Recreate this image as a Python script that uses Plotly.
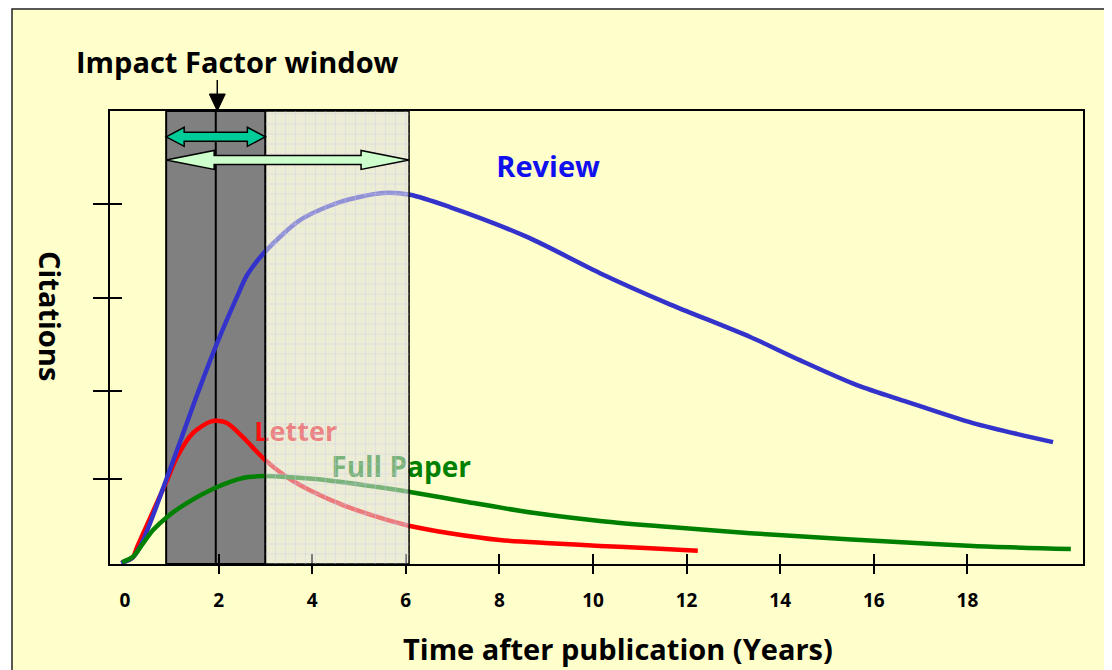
import plotly.graph_objects as go

# ---------------- data ----------------
review_years = [-0.08, 0.17, 0.36, 0.96, 1.50, 1.97, 2.39, 2.61, 2.99, 3.74, 4.59, 5.51, 6.09,
                6.94, 8.59, 10.15, 11.58, 13.36, 14.42, 15.64, 16.71, 18.12, 19.83]
review_cites = [0.02, 0.15, 0.46, 2.08, 3.62, 4.88, 5.89, 6.38, 6.89, 7.59, 7.99, 8.19, 8.15,
                7.88, 7.22, 6.42, 5.76, 5.01, 4.50, 3.95, 3.58, 3.11, 2.69]

letter_years = [-0.08, 0.17, 0.26, 0.90, 1.11, 1.45, 1.82, 1.97, 2.18, 2.52, 2.99, 3.46, 3.95,
                4.66, 5.39, 6.09, 6.94, 8.01, 9.08, 10.15, 11.22, 12.24]
letter_cites = [0.02, 0.15, 0.38, 1.85, 2.36, 2.89, 3.14, 3.16, 3.11, 2.80, 2.30, 1.92, 1.63,
                1.30, 1.04, 0.84, 0.68, 0.53, 0.46, 0.40, 0.35, 0.29]

paper_years = [-0.06, 0.17, 0.39, 0.60, 0.90, 1.33, 1.97, 2.52, 2.99, 3.46, 4.32, 5.39, 6.09,
               7.31, 8.72, 10.15, 11.58, 13.36, 14.57, 16.41, 18.12, 20.21]
paper_cites = [0.04, 0.16, 0.46, 0.75, 1.04, 1.35, 1.70, 1.90, 1.94, 1.92, 1.85, 1.70, 1.59,
               1.37, 1.13, 0.95, 0.82, 0.68, 0.60, 0.49, 0.40, 0.33]

x_tick_years = [0, 2, 4, 6, 8, 10, 12, 14, 16, 18]
x_tick_labels = [str(v) for v in x_tick_years]
x_mark_years = [2, 4, 6, 8, 10, 12, 14, 16, 18]
y_mark_values = [1.88, 3.82, 5.87, 7.95]

series_names = ["Review", "Letter", "Full Paper"]
label_years = [9.04, 3.65, 5.90]
label_cites = [8.70, 2.87, 2.08]

if_window = [0.88, 3.0]      # dark window (years)
if_marker_year = 1.94        # vertical line
wide_window = [3.0, 6.07]    # light window (years)

# ---------------- styling / geometry ----------------
OFF = 8                      # default page margin around the figure
SW, SH = 1112, 670           # screen size
W, H = SW - OFF, SH - OFF    # figure size
# plot area in screen pixels
PL, PR, PT, PB = 110, 1083, 111, 564
PW, PH = PR - PL, PB - PT
X_RANGE = [-0.32, 20.47]
Y_RANGE = [0, 10]
DX = (X_RANGE[1] - X_RANGE[0]) / PW   # data per pixel
DY = (Y_RANGE[1] - Y_RANGE[0]) / PH

BG = "#ffffcc"
FONT = "Open Sans"
BLUE_LINE = "#3333cc"
RED = "#ff0000"
GREEN = "#008000"


def to_paper_x(xd):
    return (xd - X_RANGE[0]) / (X_RANGE[1] - X_RANGE[0])


def sx(px):   # screen x pixel -> paper
    return (px - PL) / PW


def sy(py):   # screen y pixel -> paper
    return (PB - py) / PH


def double_arrow(x0, x1, yc, head_len, head_half, shaft_half):
    hl, hh, sh = head_len * DX, head_half * DY, shaft_half * DY
    pts = [(x0, yc), (x0 + hl, yc + hh), (x0 + hl, yc + sh), (x1 - hl, yc + sh),
           (x1 - hl, yc + hh), (x1, yc), (x1 - hl, yc - hh), (x1 - hl, yc - sh),
           (x0 + hl, yc - sh), (x0 + hl, yc - hh)]
    return "M " + " L ".join(f"{px:.4f},{py:.4f}" for px, py in pts) + " Z"


fig = go.Figure()

fig.add_trace(go.Scatter(x=letter_years, y=letter_cites, mode="lines",
                         line=dict(color=RED, width=4.5, shape="spline", smoothing=0.8),
                         showlegend=False, hoverinfo="skip"))
fig.add_trace(go.Scatter(x=review_years, y=review_cites, mode="lines",
                         line=dict(color=BLUE_LINE, width=4.5, shape="spline", smoothing=0.8),
                         showlegend=False, hoverinfo="skip"))
fig.add_trace(go.Scatter(x=paper_years, y=paper_cites, mode="lines",
                         line=dict(color=GREEN, width=4.5, shape="spline", smoothing=0.8),
                         showlegend=False, hoverinfo="skip"))

label_colors = ["#1010ee", "#ff1010", "#008000"]
fig.add_trace(go.Scatter(x=label_years, y=label_cites, mode="text", text=series_names,
                         textposition="middle center",
                         textfont=dict(family=FONT, size=[29, 27, 28], color=label_colors,
                                       weight="bold"),
                         showlegend=False, hoverinfo="skip"))

# dummy traces for tick-mark overlay axes
for xa, ya in [("x2", "y"), ("x3", "y"), ("x", "y2"), ("x", "y3")]:
    fig.add_trace(go.Scatter(x=[None], y=[None], xaxis=xa, yaxis=ya,
                             showlegend=False, hoverinfo="skip"))

shapes = []
# outer frame of the slide
shapes.append(dict(type="rect", xref="paper", yref="paper",
                   x0=sx(12), x1=sx(SW + 20), y0=sy(SH + 20), y1=sy(9),
                   fillcolor=BG, line=dict(color="#222", width=1.5), layer="below"))
# dark impact-factor window
shapes.append(dict(type="rect", xref="x", yref="y", x0=if_window[0], x1=if_window[1],
                   y0=Y_RANGE[0], y1=Y_RANGE[1], fillcolor="#808080",
                   line=dict(color="black", width=2), layer="below"))
shapes.append(dict(type="line", xref="x", yref="y", x0=if_marker_year, x1=if_marker_year,
                   y0=Y_RANGE[0], y1=Y_RANGE[1], line=dict(color="black", width=2),
                   layer="below"))
# light wide window (semi-transparent, above the curves)
shapes.append(dict(type="rect", xref="x", yref="y", x0=wide_window[0], x1=wide_window[1],
                   y0=Y_RANGE[0], y1=Y_RANGE[1], fillcolor="rgba(222,222,222,0.55)",
                   line=dict(color="black", width=1.5), layer="above"))
# fine grid pattern inside the light window
gx = wide_window[0] + 10 * DX
while gx < wide_window[1] - 2 * DX:
    shapes.append(dict(type="line", xref="x", yref="y", x0=gx, x1=gx, y0=Y_RANGE[0],
                       y1=Y_RANGE[1], line=dict(color="rgba(200,200,235,0.4)", width=1),
                       layer="above"))
    gx += 10 * DX
gy = Y_RANGE[0] + 10 * DY
while gy < Y_RANGE[1] - 2 * DY:
    shapes.append(dict(type="line", xref="x", yref="y", x0=wide_window[0], x1=wide_window[1],
                       y0=gy, y1=gy, line=dict(color="rgba(200,200,235,0.4)", width=1),
                       layer="above"))
    gy += 10 * DY
# double arrows
shapes.append(dict(type="path", xref="x", yref="y",
                   path=double_arrow(if_window[0], if_window[1], 9.43, 18, 9.5, 4.5),
                   fillcolor="#00cc99", line=dict(color="black", width=1.5), layer="above"))
shapes.append(dict(type="path", xref="x", yref="y",
                   path=double_arrow(if_window[0], wide_window[1], 8.92, 48, 9.5, 4.5),
                   fillcolor="#ccffcc", line=dict(color="black", width=1.5), layer="above"))
# pointer from title to the window
ax = to_paper_x(if_marker_year + 1.5 * DX)
shapes.append(dict(type="line", xref="paper", yref="paper", x0=ax, x1=ax,
                   y0=sy(PT - 16), y1=sy(PT - 31), line=dict(color="black", width=1.5)))
shapes.append(dict(type="path", xref="paper", yref="paper",
                   path=f"M {ax - 8 / PW},{sy(PT - 17)} L {ax + 8 / PW},{sy(PT - 17)} L {ax},{1.0} Z",
                   fillcolor="black", line=dict(color="black", width=1)))

annotations = [
    dict(text="Impact Factor window", xref="paper", yref="paper",
         x=sx(237.5), y=sy(61), showarrow=False,
         font=dict(family=FONT, size=29, color="black", weight="bold"),
         xanchor="center", yanchor="middle"),
    dict(text="Time after publication (Years)", xref="paper", yref="paper",
         x=sx(617.5), y=sy(648), showarrow=False,
         font=dict(family=FONT, size=29, color="black", weight="bold"),
         xanchor="center", yanchor="middle"),
    dict(text="Citations", xref="paper", yref="paper",
         x=sx(51), y=sy(316), showarrow=False, textangle=90,
         font=dict(family=FONT, size=29, color="black", weight="bold"),
         xanchor="center", yanchor="middle"),
]

axis_common = dict(showgrid=False, zeroline=False)
fig.update_layout(
    width=W, height=H,
    margin=dict(l=PL - OFF, r=W - (PR - OFF), t=PT - OFF, b=H - (PB - OFF), pad=0),
    paper_bgcolor="white", plot_bgcolor=BG,
    showlegend=False,
    xaxis=dict(range=X_RANGE, tickvals=x_tick_years, ticktext=x_tick_labels,
               ticks="outside", ticklen=18, tickcolor="rgba(0,0,0,0)",
               tickfont=dict(family=FONT, size=19, color="black", weight="bold"),
               showline=True, mirror=True, linecolor="black", linewidth=2, **axis_common),
    xaxis2=dict(range=X_RANGE, overlaying="x", tickvals=x_mark_years, ticks="outside",
                ticklen=9, tickwidth=2, tickcolor="black", showticklabels=False,
                showline=False, **axis_common),
    xaxis3=dict(range=X_RANGE, overlaying="x", tickvals=x_mark_years, ticks="inside",
                ticklen=10, tickwidth=2, tickcolor="black", showticklabels=False,
                showline=False, **axis_common),
    yaxis=dict(range=Y_RANGE, showticklabels=False, ticks="",
               showline=True, mirror=True, linecolor="black", linewidth=2, **axis_common),
    yaxis2=dict(range=Y_RANGE, overlaying="y", tickvals=y_mark_values, ticks="outside",
                ticklen=16, tickwidth=2, tickcolor="black", showticklabels=False,
                showline=False, **axis_common),
    yaxis3=dict(range=Y_RANGE, overlaying="y", tickvals=y_mark_values, ticks="inside",
                ticklen=12, tickwidth=2, tickcolor="black", showticklabels=False,
                showline=False, **axis_common),
    shapes=shapes,
    annotations=annotations,
)

fig.write_html("out.html")
